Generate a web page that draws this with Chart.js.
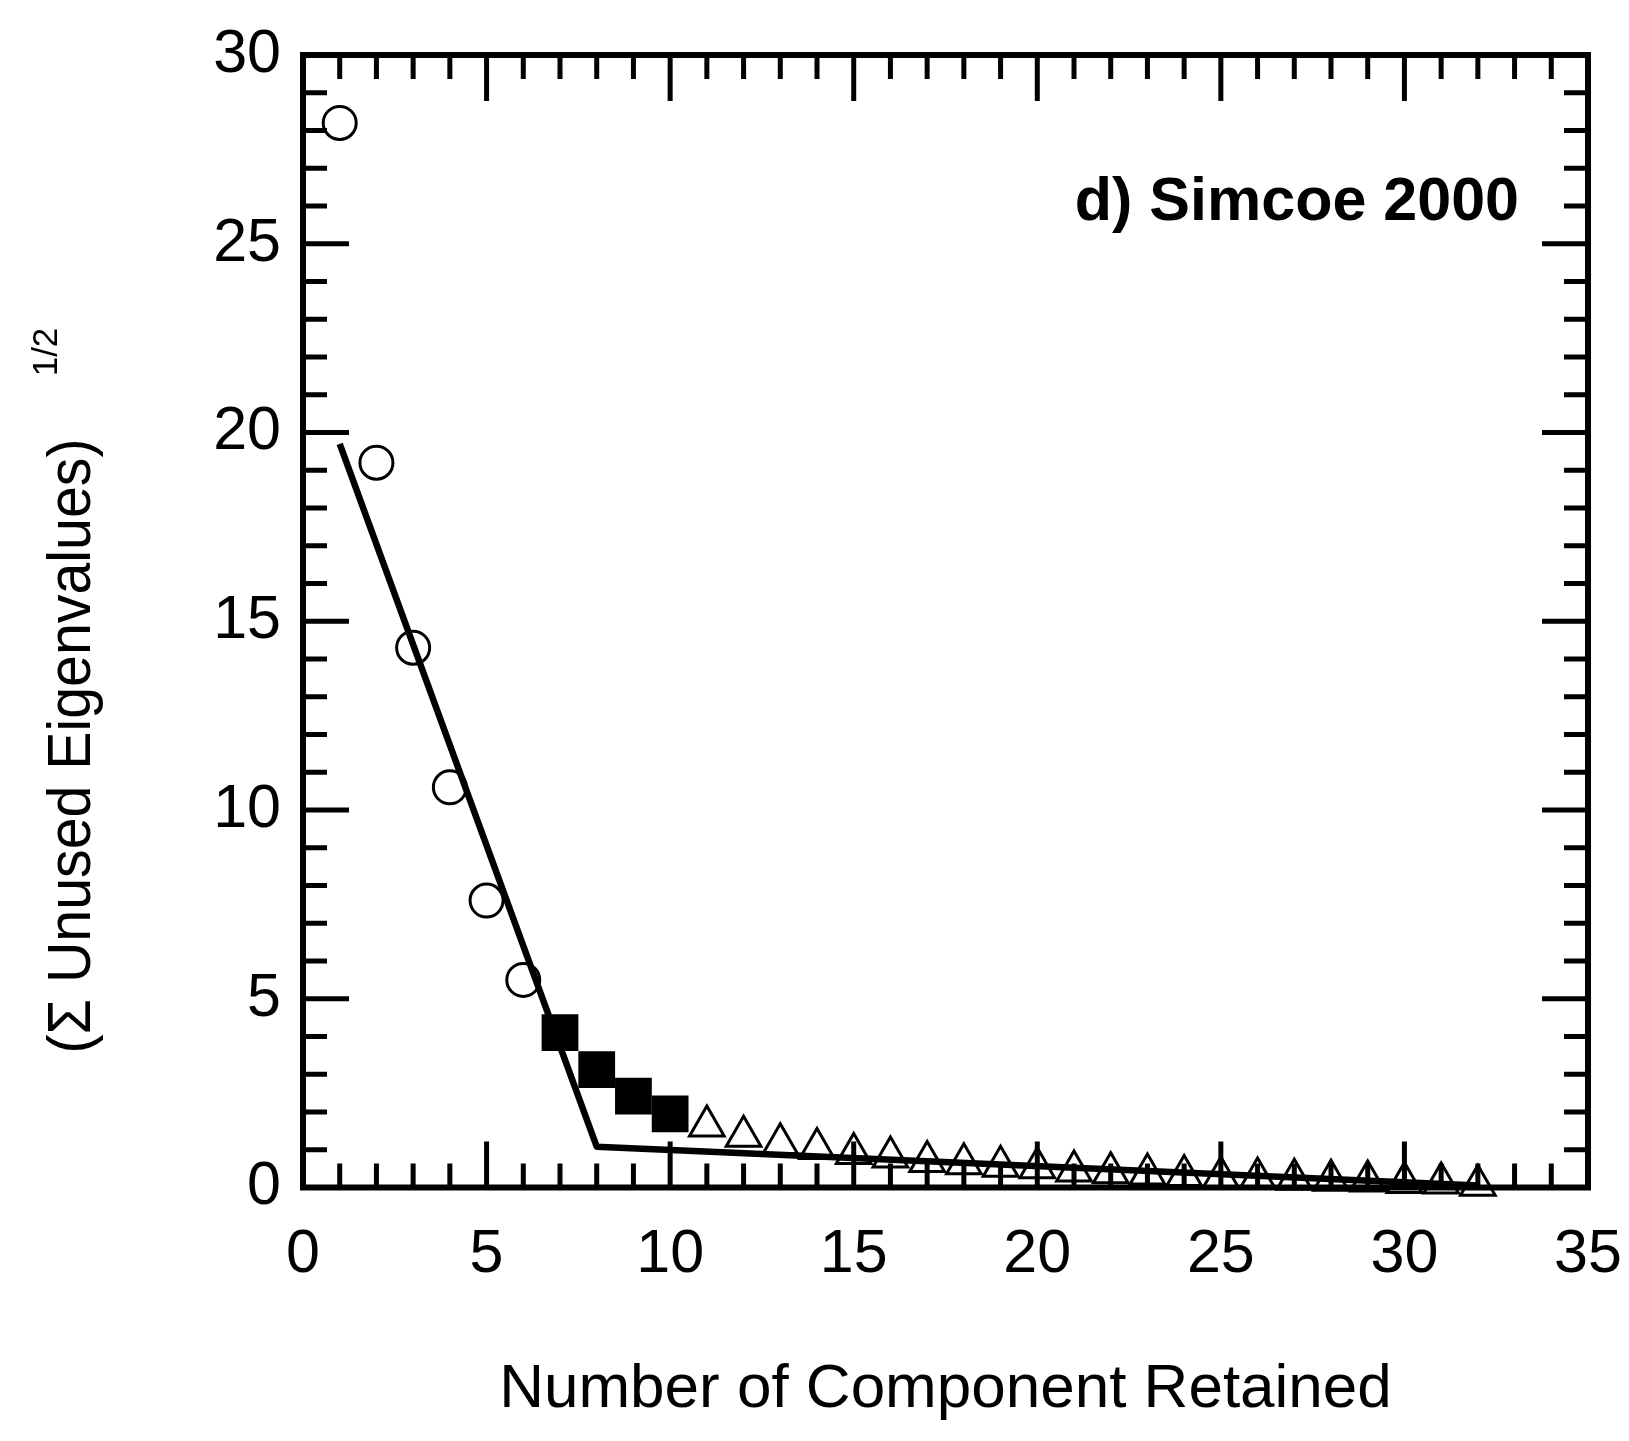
<!DOCTYPE html>
<html lang="en">
<head>
<meta charset="UTF-8">
<title>Simcoe 2000 - Unused Eigenvalues</title>
<script src="https://cdn.jsdelivr.net/npm/chart.js"></script>
<style>
  html, body { margin: 0; padding: 0; background: #fff; }
  #wrap { width: 1629px; height: 1441px; }
</style>
</head>
<body>
<div id="wrap"><canvas id="grafico" width="1629" height="1441"></canvas></div>
<script>
// values
const circleX = [1, 2, 3, 4, 5, 6];
const circleY = [28.2, 19.2, 14.3, 10.6, 7.6, 5.5];

const squareX = [7, 8, 9, 10];
const squareY = [4.1, 3.12, 2.42, 1.95];

const triangleX = [11, 12, 13, 14, 15, 16, 17, 18, 19, 20, 21,
                   22, 23, 24, 25, 26, 27, 28, 29, 30, 31, 32];
const triangleY = [1.63, 1.36, 1.16, 1.03, 0.90, 0.81, 0.69, 0.63, 0.56, 0.52, 0.44,
                   0.39, 0.36, 0.32, 0.28, 0.25, 0.22, 0.19, 0.17, 0.13, 0.12, 0.06];

// the two straight segments fitted through the points
const fitX = [1, 8, 32];
const fitY = [19.7, 1.08, 0.05];

const xTicks = [0, 5, 10, 15, 20, 25, 30, 35];
const yTicks = [0, 5, 10, 15, 20, 25, 30];

const xTitle = 'Number of Component Retained';
const yTitle = '(\u03A3 Unused Eigenvalues)';
const yTitleSup = '1/2';
const panelLabel = 'd) Simcoe 2000';

const FONT = '"Liberation Sans", Arial, Helvetica, sans-serif';
Chart.defaults.font.family = FONT;
Chart.defaults.color = '#000';

function pares(xs, ys) {
    return xs.map((x, i) => ({ x: x, y: ys[i] }));
}

// frame with inward ticks on all four sides
const moldura = {
    id: 'moldura',
    afterDatasetsDraw(chart) {
        const { ctx, chartArea: a, scales: { x, y } } = chart;
        ctx.save();
        ctx.strokeStyle = '#000';
        ctx.lineCap = 'butt';
        ctx.lineWidth = 5;
        ctx.beginPath();
        for (let v = 1; v < 35; v++) {
            const px = x.getPixelForValue(v);
            const len = v % 5 === 0 ? 46 : 24;
            ctx.moveTo(px, a.bottom); ctx.lineTo(px, a.bottom - len);
            ctx.moveTo(px, a.top); ctx.lineTo(px, a.top + len);
        }
        for (let v = 1; v < 30; v++) {
            const py = y.getPixelForValue(v);
            const len = v % 5 === 0 ? 46 : 24;
            ctx.moveTo(a.left, py); ctx.lineTo(a.left + len, py);
            ctx.moveTo(a.right, py); ctx.lineTo(a.right - len, py);
        }
        ctx.stroke();
        ctx.lineWidth = 6;
        ctx.lineJoin = 'miter';
        ctx.strokeRect(a.left, a.top, a.right - a.left, a.bottom - a.top);
        ctx.restore();
    }
};

// rotated y title with superscript, and the panel label
const textos = {
    id: 'textos',
    afterDraw(chart) {
        const { ctx } = chart;
        ctx.save();
        ctx.fillStyle = '#000';

        ctx.font = 'bold 61px ' + FONT;
        ctx.textAlign = 'right';
        ctx.textBaseline = 'alphabetic';
        ctx.fillText(panelLabel, 1519, 220);

        ctx.save();
        ctx.translate(90, 746);
        ctx.rotate(-Math.PI / 2);
        ctx.font = '62px ' + FONT;
        const w = ctx.measureText(yTitle).width;
        ctx.scale(615 / w, 1);
        ctx.textAlign = 'center';
        ctx.fillText(yTitle, 0, 0);
        ctx.restore();

        ctx.save();
        ctx.translate(57, 352);
        ctx.rotate(-Math.PI / 2);
        ctx.font = '35px ' + FONT;
        ctx.textAlign = 'center';
        ctx.fillText(yTitleSup, 0, 0);
        ctx.restore();

        ctx.restore();
    }
};

const config = {
    type: 'scatter',
    data: {
        datasets: [
            {
                label: 'ajuste',
                data: pares(fitX, fitY),
                showLine: true,
                borderColor: '#000',
                borderWidth: 6.5,
                borderJoinStyle: 'round',
                borderCapStyle: 'butt',
                pointRadius: 0,
                clip: false
            },
            {
                label: 'circulos',
                data: pares(circleX, circleY),
                pointStyle: 'circle',
                pointRadius: 16.5,
                borderWidth: 3,
                borderColor: '#000',
                backgroundColor: 'rgba(255,255,255,0)',
                clip: false
            },
            {
                label: 'quadrados',
                data: pares(squareX, squareY),
                pointStyle: 'rect',
                pointRadius: 26,
                borderWidth: 0,
                borderColor: '#000',
                backgroundColor: '#000',
                clip: false
            },
            {
                label: 'triangulos',
                data: pares(triangleX, triangleY),
                pointStyle: 'triangle',
                pointRadius: 20,
                borderWidth: 3,
                borderColor: '#000',
                backgroundColor: 'rgba(255,255,255,0)',
                clip: false
            }
        ]
    },
    options: {
        responsive: false,
        animation: false,
        events: [],
        layout: { padding: { left: 0, top: 55, right: 41, bottom: 0 } },
        plugins: {
            legend: { display: false },
            tooltip: { enabled: false }
        },
        scales: {
            x: {
                type: 'linear',
                min: 0,
                max: 35,
                grid: { display: false, drawTicks: false },
                border: { display: false },
                afterBuildTicks: s => { s.ticks = xTicks.map(v => ({ value: v })); },
                afterFit: s => { s.height = 253.5; s.paddingLeft = 0; s.paddingRight = 0; },
                ticks: { font: { size: 61 }, color: '#000', padding: 31, maxRotation: 0 },
                title: {
                    display: true,
                    text: xTitle,
                    font: { size: 62 },
                    color: '#000',
                    padding: { top: 0, bottom: 14 }
                }
            },
            y: {
                type: 'linear',
                min: 0,
                max: 30,
                grid: { display: false, drawTicks: false },
                border: { display: false },
                afterBuildTicks: s => { s.ticks = yTicks.map(v => ({ value: v })); },
                afterFit: s => { s.width = 303; s.paddingTop = 0; s.paddingBottom = 0; },
                ticks: { font: { size: 61 }, color: '#000', padding: 22 }
            }
        }
    },
    plugins: [moldura, textos]
};

new Chart(document.getElementById('grafico'), config);
</script>
</body>
</html>
